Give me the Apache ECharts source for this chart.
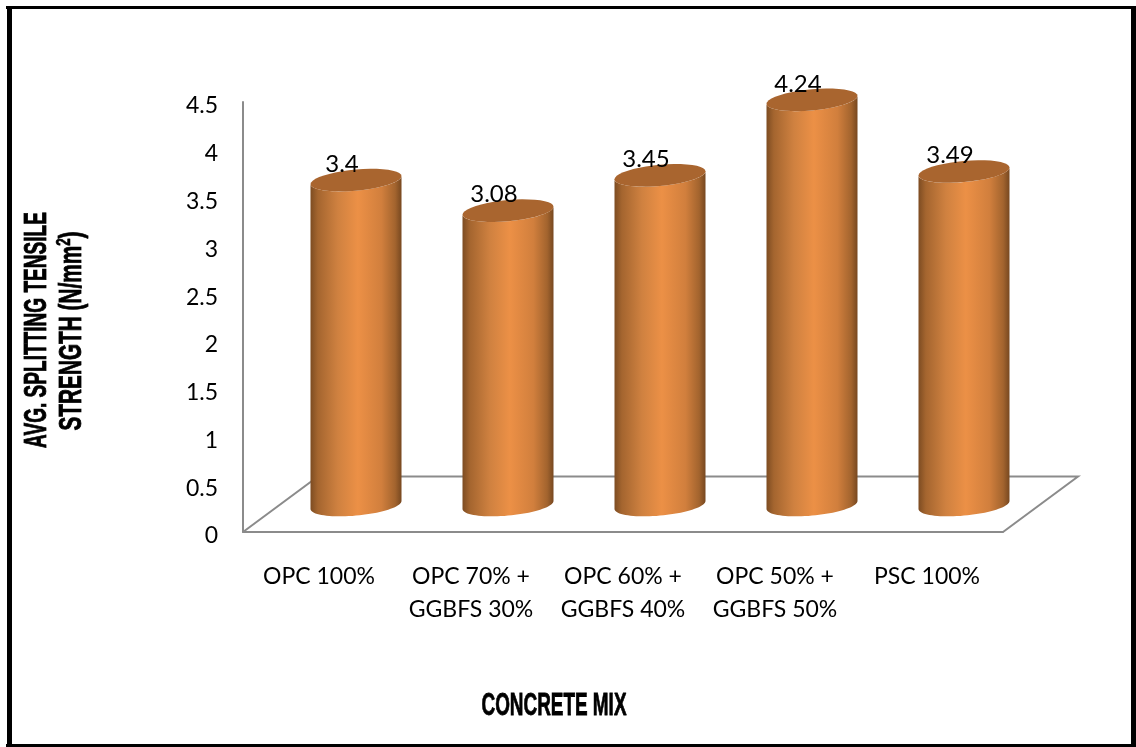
<!DOCTYPE html>
<html>
<head>
<meta charset="utf-8">
<style>
  html, body { margin: 0; padding: 0; background: #fff; }
  #chart { width: 1136px; height: 747px; }
</style>
<script src="https://cdn.jsdelivr.net/npm/echarts@6/dist/echarts.min.js"></script>
</head>
<body>
<div id="chart"></div>
<script>
// Average splitting tensile strength per concrete mix
const categories = ['OPC 100%', 'OPC 70% +\nGGBFS 30%', 'OPC 60% +\nGGBFS 40%', 'OPC 50% +\nGGBFS 50%', 'PSC 100%'];
const strength = [3.4, 3.08, 3.45, 4.24, 3.49];
const valueTicks = ['0', '0.5', '1', '1.5', '2', '2.5', '3', '3.5', '4', '4.5'];

// Pseudo-3D projection: the floor recedes up and to the right
const FLOOR_DX = 75, FLOOR_DY = -55.5;
const BAR_DX = 37, BAR_DY = -27;
const RADIUS_X = 45.5, RADIUS_Y = 10.6, TILT = 4;
const AXIS_GREY = '#8b8b8b';
const LABEL_FONT = 'Lato';

const chart = echarts.init(document.getElementById('chart'), null, { renderer: 'canvas' });

// Part of the tilted ellipse rim, sampled from angle a0 to a1
function rim(cx, cy, a0, a1) {
  const pts = [];
  for (let k = 0; k <= 40; k++) {
    const a = a0 + (a1 - a0) * k / 40;
    pts.push([cx + RADIUS_X * Math.cos(a), cy + RADIUS_Y * Math.sin(a) - TILT * Math.cos(a)]);
  }
  return pts;
}

function renderCylinder(params, api) {
  const i = api.value(0);
  const v = api.value(1);
  const base = api.coord([i, 0]);
  const top = api.coord([i, v]);
  const cx = base[0] + BAR_DX;
  const yTop = top[1] + BAR_DY;
  const yBase = base[1] + BAR_DY;
  // Front of the lateral surface: right to left along the top rim, then back along the base rim
  const side = rim(cx, yTop, 0, Math.PI).concat(rim(cx, yBase, Math.PI, 0));
  return {
    type: 'group',
    children: [
      {
        type: 'polygon',
        shape: { points: side },
        style: {
          fill: new echarts.graphic.LinearGradient(0, 0, 1, 0, [
            { offset: 0, color: '#7d4c22' },
            { offset: 0.08, color: '#a4652f' },
            { offset: 0.3, color: '#cf8140' },
            { offset: 0.52, color: '#ec9046' },
            { offset: 0.78, color: '#d17f3d' },
            { offset: 0.93, color: '#a3642e' },
            { offset: 1, color: '#774820' }
          ])
        }
      },
      {
        type: 'polygon',
        shape: { points: rim(cx, yTop, 0, Math.PI * 2) },
        style: { fill: '#a9652f' }
      },
      {
        type: 'text',
        z2: 10,
        style: {
          x: cx - 14,
          y: yTop - 16,
          text: String(v),
          align: 'center',
          verticalAlign: 'middle',
          fontFamily: LABEL_FONT,
          fontSize: 24,
          fill: '#000'
        }
      }
    ]
  };
}

function renderFloor(params) {
  const c = params.coordSys;
  const left = c.x, right = c.x + c.width, front = c.y + c.height;
  return {
    type: 'polyline',
    silent: true,
    shape: {
      points: [
        [left, front],
        [left + FLOOR_DX, front + FLOOR_DY],
        [right + FLOOR_DX, front + FLOOR_DY],
        [right, front]
      ]
    },
    style: { stroke: AXIS_GREY, lineWidth: 2, fill: 'none' }
  };
}

// Thick outer border around the whole figure
function borderBar(x, y, width, height) {
  return { type: 'rect', silent: true, shape: { x, y, width, height }, style: { fill: '#000' } };
}

// Condensed heavy caption, squeezed horizontally along its own direction
function caption(x, y, rotation, scaleX, text, rich) {
  return {
    type: 'text',
    x, y, rotation, scaleX,
    style: {
      text,
      rich,
      fontFamily: 'Liberation Sans',
      fontWeight: 'bold',
      fontSize: 31,
      fill: '#000',
      stroke: '#000',
      lineWidth: 0.8,
      align: 'center',
      verticalAlign: 'middle'
    }
  };
}

chart.setOption({
  animation: false,
  backgroundColor: '#fff',
  grid: { left: 243, top: 102, width: 760, height: 430, containLabel: false },
  xAxis: {
    type: 'category',
    data: categories,
    axisTick: { show: false },
    axisLine: { lineStyle: { color: AXIS_GREY, width: 2 } },
    axisLabel: {
      fontFamily: LABEL_FONT,
      fontSize: 23,
      color: '#000',
      margin: 28,
      lineHeight: 33,
      interval: 0
    },
    splitLine: { show: false }
  },
  yAxis: {
    type: 'value',
    min: 0,
    max: 4.5,
    interval: 0.5,
    axisTick: { show: false },
    axisLine: { show: true, lineStyle: { color: AXIS_GREY, width: 2 } },
    axisLabel: {
      fontFamily: LABEL_FONT,
      fontSize: 23,
      color: '#000',
      margin: 25,
      verticalAlign: 'top',
      lineHeight: 8,
      formatter: (val, idx) => valueTicks[idx]
    },
    splitLine: { show: false }
  },
  series: [
    {
      type: 'custom',
      z: 1,
      silent: true,
      renderItem: renderFloor,
      data: [0],
      encode: { x: 0 }
    },
    {
      type: 'custom',
      z: 2,
      silent: true,
      renderItem: renderCylinder,
      data: strength.map((v, i) => [i, v]),
      encode: { x: 0, y: 1 }
    }
  ],
  graphic: [
    borderBar(6, 6, 1130, 3),
    borderBar(6, 744, 1130, 3),
    borderBar(7, 6, 5, 741),
    borderBar(1131, 6, 5, 741),
    caption(554, 706, 0, 0.61, 'CONCRETE MIX'),
    caption(37, 330, Math.PI / 2, 0.615, 'AVG. SPLITTING TENSILE'),
    caption(72, 331, Math.PI / 2, 0.67, 'STRENGTH (N/mm{sup|2})', {
      sup: {
        fontFamily: 'Liberation Sans',
        fontWeight: 'bold',
        fontSize: 20,
        padding: [0, 0, 16, 0],
        fill: '#000',
        stroke: '#000',
        lineWidth: 0.6
      }
    })
  ]
});
</script>
</body>
</html>
